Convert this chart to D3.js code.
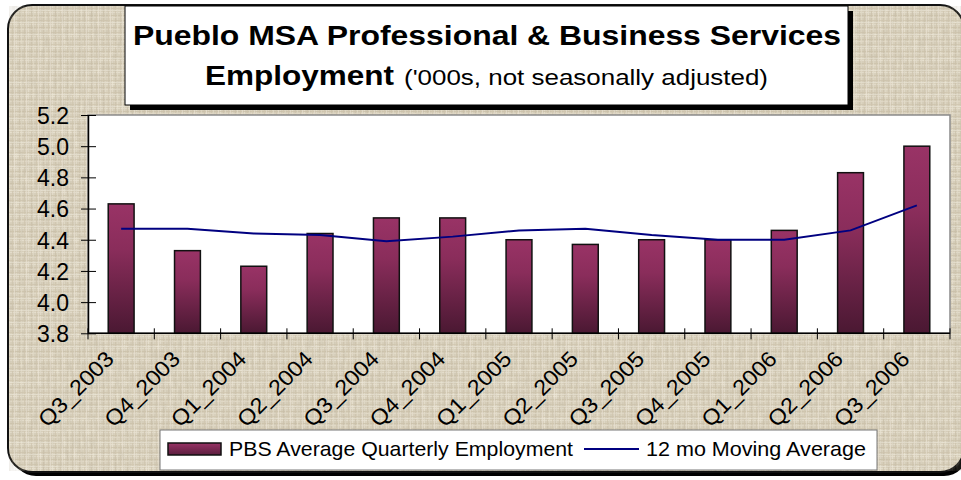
<!DOCTYPE html>
<html><head><meta charset="utf-8">
<script src="https://cdn.jsdelivr.net/npm/d3@7"></script>
<style>
html,body{margin:0;padding:0;background:#fff;}
svg{display:block;font-family:Arial,"Liberation Sans",sans-serif;}
</style></head>
<body>
<svg id="chart" width="961" height="480"></svg>
<script>
const categories = ["Q3_2003","Q4_2003","Q1_2004","Q2_2004","Q3_2004","Q4_2004","Q1_2005","Q2_2005","Q3_2005","Q4_2005","Q1_2006","Q2_2006","Q3_2006"];
const pbsEmployment = [4.63,4.33,4.23,4.44,4.54,4.54,4.40,4.37,4.40,4.40,4.46,4.83,5.00];
const movingAverage = [4.47,4.47,4.44,4.43,4.39,4.42,4.46,4.47,4.43,4.40,4.40,4.46,4.62];
const yTicks = [3.8,4.0,4.2,4.4,4.6,4.8,5.0,5.2];
const titleLine1 = "Pueblo MSA Professional & Business Services";
const titleBold2 = "Employment";
const titleNormal2 = "('000s, not seasonally adjusted)";
const legendLabels = ["PBS Average Quarterly Employment","12 mo Moving Average"];

(function(){
const svg = d3.select("#chart");
const defs = svg.append("defs");

// background texture
const pat = defs.append("pattern").attr("id","tex").attr("patternUnits","userSpaceOnUse")
  .attr("width",12).attr("height",12);
pat.append("rect").attr("width",12).attr("height",12).attr("fill","#dcd4c0");
[[0,"#ece6d6"],[3,"#cfc5ae"],[5,"#e8e1cf"],[8,"#d3c9b3"],[10,"#eee8d9"]].forEach(([p,c])=>{
  pat.append("rect").attr("x",0).attr("y",p).attr("width",12).attr("height",1).attr("fill",c).attr("opacity",0.8);
  pat.append("rect").attr("x",(p+4)%12).attr("y",0).attr("width",1).attr("height",12).attr("fill",c).attr("opacity",0.7);
});
const filt = defs.append("filter").attr("id","noise").attr("x",0).attr("y",0).attr("width","100%").attr("height","100%");
filt.append("feTurbulence").attr("type","fractalNoise").attr("baseFrequency","0.35 0.08").attr("numOctaves",2).attr("seed",3).attr("result","n");
filt.append("feColorMatrix").attr("in","n").attr("type","matrix")
  .attr("values","0 0 0 0 0.45  0 0 0 0 0.40  0 0 0 0 0.30  0 0 0 0.4 -0.05");

// bar gradient
const grad = defs.append("linearGradient").attr("id","barGrad").attr("x1",0).attr("y1",0).attr("x2",0).attr("y2",1);
grad.append("stop").attr("offset","0%").attr("stop-color","#993366");
grad.append("stop").attr("offset","35%").attr("stop-color","#8a2d5b");
grad.append("stop").attr("offset","100%").attr("stop-color","#4a1832");
const gradL = defs.append("linearGradient").attr("id","legGrad").attr("x1",0).attr("y1",0).attr("x2",0).attr("y2",1);
gradL.append("stop").attr("offset","0%").attr("stop-color","#993366");
gradL.append("stop").attr("offset","100%").attr("stop-color","#5a1e3e");

// outer frame
svg.append("rect").attr("x",12).attr("y",9).attr("width",956).attr("height",467).attr("rx",24).attr("fill","#000");
svg.append("rect").attr("x",8).attr("y",5).attr("width",956).attr("height",467).attr("rx",24)
  .attr("fill","url(#tex)").attr("stroke","#111").attr("stroke-width",2);
svg.append("rect").attr("x",9).attr("y",6).attr("width",954).attr("height",465).attr("rx",23)
  .attr("filter","url(#noise)").attr("fill","#000");

// title box
svg.append("rect").attr("x",130).attr("y",11).attr("width",723).attr("height",99).attr("fill","#000");
svg.append("rect").attr("x",125).attr("y",6).attr("width",723).attr("height",99).attr("fill","#fff").attr("stroke","#000").attr("stroke-width",1);
svg.append("text").attr("x",133).attr("y",45)
  .attr("font-size",28).attr("font-weight","bold").attr("fill","#000")
  .attr("textLength",708).attr("lengthAdjust","spacingAndGlyphs").text(titleLine1);
svg.append("text").attr("x",205).attr("y",85).attr("font-size",28).attr("font-weight","bold").attr("fill","#000")
  .attr("textLength",189).attr("lengthAdjust","spacingAndGlyphs").text(titleBold2);
svg.append("text").attr("x",404).attr("y",85).attr("font-size",22).attr("fill","#000")
  .attr("textLength",364).attr("lengthAdjust","spacingAndGlyphs").text(titleNormal2);

// plot
const pl = 88, pr = 950, pt = 115, pb = 333.3;
const x = d3.scaleBand().domain(categories).range([pl,pr]).padding(0);
const y = d3.scaleLinear().domain([3.8,5.2]).range([pb,pt]);

svg.append("rect").attr("x",pl).attr("y",pt).attr("width",pr-pl).attr("height",pb-pt)
  .attr("fill","#fff").attr("stroke","#8a8a8a").attr("stroke-width",1.5);

const bw = x.bandwidth()*0.39;
svg.append("g").selectAll("rect").data(pbsEmployment).join("rect")
  .attr("x",(d,i)=>x(categories[i])+x.bandwidth()/2-bw/2)
  .attr("y",d=>y(d)).attr("width",bw).attr("height",d=>y(3.8)-y(d))
  .attr("fill","url(#barGrad)").attr("stroke","#111").attr("stroke-width",1.5);

const line = d3.line().x((d,i)=>x(categories[i])+x.bandwidth()/2).y(d=>y(d));
svg.append("path").datum(movingAverage).attr("d",line).attr("fill","none")
  .attr("stroke","#000080").attr("stroke-width",2);

// y axis
const yAxis = d3.axisLeft(y).tickValues(yTicks).tickFormat(d3.format(".1f")).tickSize(0);
const ya = svg.append("g").attr("transform",`translate(${pl},0)`).call(yAxis);
ya.select(".domain").attr("stroke","#000").attr("stroke-width",1.5);
ya.selectAll("text").attr("font-size",23).attr("fill","#000").attr("x",-19).attr("dy","0.36em")
  .attr("font-family",'Arial,"Liberation Sans",sans-serif');
ya.selectAll(".tick").append("line").attr("x1",-7).attr("x2",8).attr("stroke","#000").attr("stroke-width",1);

// x axis
svg.append("line").attr("x1",pl).attr("x2",pr).attr("y1",pb).attr("y2",pb).attr("stroke","#000").attr("stroke-width",1.5);
const edges = categories.map(c=>x(c)).concat([pr]);
svg.append("g").selectAll("line").data(edges).join("line")
  .attr("x1",d=>d).attr("x2",d=>d).attr("y1",pb-5).attr("y2",pb+6).attr("stroke","#000").attr("stroke-width",1);
const xl = svg.append("g").selectAll("text").data(categories).join("text")
  .attr("transform",d=>`translate(${x(d)+x.bandwidth()/2-6},${pb+27}) rotate(-45)`)
  .attr("text-anchor","end").attr("font-size",22).attr("fill","#000").text(d=>d);
xl.each(function(){ const L=this.getComputedTextLength(); d3.select(this).attr("textLength",L*1.06).attr("lengthAdjust","spacingAndGlyphs"); });

// legend
svg.append("rect").attr("x",160).attr("y",430).attr("width",717).attr("height",40)
  .attr("fill","#fff").attr("stroke","#777").attr("stroke-width",1);
svg.append("rect").attr("x",168).attr("y",443).attr("width",53).attr("height",12)
  .attr("fill","url(#legGrad)").attr("stroke","#111").attr("stroke-width",1.5);
svg.append("text").attr("x",229).attr("y",456).attr("font-size",21).attr("fill","#000")
  .attr("textLength",344).attr("lengthAdjust","spacingAndGlyphs").text(legendLabels[0]);
svg.append("line").attr("x1",584).attr("x2",639).attr("y1",449).attr("y2",449).attr("stroke","#000080").attr("stroke-width",2);
svg.append("text").attr("x",646).attr("y",456).attr("font-size",21).attr("fill","#000")
  .attr("textLength",220).attr("lengthAdjust","spacingAndGlyphs").text(legendLabels[1]);
})();
</script>
</body></html>
